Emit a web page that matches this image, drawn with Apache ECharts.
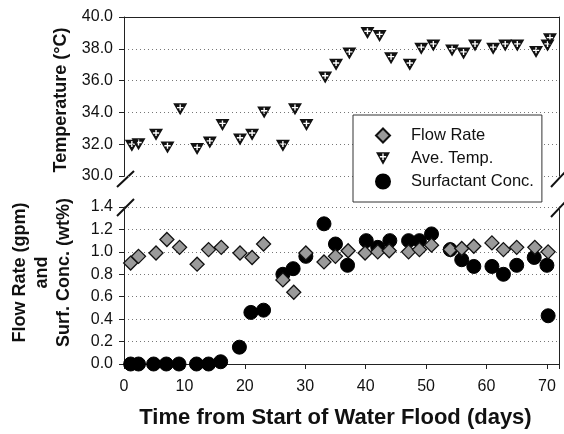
<!DOCTYPE html>
<html>
<head>
<meta charset="utf-8">
<script src="https://cdn.jsdelivr.net/npm/echarts@6/dist/echarts.min.js"></script>
<style>
  html, body { margin: 0; padding: 0; background: #fff; }
  #chart { width: 564px; height: 434px; }
</style>
</head>
<body>
<div id="chart"></div>
<script>
// values
var tempDays = [1.3, 2.4, 5.3, 7.2, 9.3, 12.1, 14.2, 16.3, 19.2, 21.2, 23.2, 26.3, 28.3, 30.2, 33.3, 35.1,
  37.3, 40.3, 42.3, 44.2, 47.3, 49.2, 51.2, 54.3, 56.2, 58.1, 61.1, 63.1, 65.1, 68.2, 70.1, 70.5];
var tempValues = [31.9, 32.0, 32.6, 31.8, 34.2, 31.7, 32.1, 33.2, 32.3, 32.6, 34.0, 31.9, 34.2, 33.2, 36.2, 37.0,
  37.7, 39.0, 38.8, 37.4, 37.0, 38.0, 38.2, 37.9, 37.7, 38.2, 38.0, 38.2, 38.2, 37.8, 38.2, 38.6];

var flowDays = [1.1, 2.4, 5.3, 7.1, 9.2, 12.1, 14.0, 16.1, 19.2, 21.2, 23.1, 26.3, 28.1, 30.1, 33.1, 35.0,
  37.1, 39.9, 42.0, 43.9, 47.1, 48.9, 50.9, 54.0, 55.9, 57.9, 60.9, 62.8, 65.0, 68.0, 70.2];
var flowValues = [0.90, 0.96, 0.99, 1.11, 1.04, 0.89, 1.02, 1.04, 0.99, 0.95, 1.07, 0.75, 0.64, 0.99, 0.91, 0.96,
  1.01, 0.99, 1.00, 1.01, 1.00, 1.02, 1.06, 1.02, 1.03, 1.05, 1.08, 1.02, 1.04, 1.04, 1.00];

var surfDays = [1.1, 2.4, 4.9, 7.0, 9.1, 12.0, 14.0, 16.0, 19.1, 21.0, 23.1, 26.3, 28.0, 30.1, 33.1, 35.0,
  37.0, 40.1, 42.0, 44.0, 47.1, 48.9, 50.9, 54.0, 55.9, 57.9, 60.9, 62.8, 65.0, 67.9, 70.0, 70.2];
var surfValues = [0, 0, 0, 0, 0, 0, 0, 0.02, 0.15, 0.46, 0.48, 0.80, 0.85, 0.96, 1.25, 1.07,
  0.88, 1.10, 1.04, 1.10, 1.10, 1.10, 1.16, 1.02, 0.93, 0.87, 0.87, 0.80, 0.88, 0.95, 0.88, 0.43];

var legendNames = ['Flow Rate', 'Ave. Temp.', 'Surfactant Conc.'];

function pairs(xs, ys) {
  var out = [];
  for (var i = 0; i < xs.length; i++) out.push([xs[i], ys[i]]);
  return out;
}

// down triangle with a white plus cut out of it
var triSymbol = 'path://M0,0L20,0L10,18Z M9,2L9,5.5L5.5,5.5L5.5,7.5L9,7.5L9,11L11,11L11,7.5L14.5,7.5L14.5,5.5L11,5.5L11,2Z';

var FONT = 'Arial, "Liberation Sans", Helvetica, sans-serif';
var axisLine = { show: true, lineStyle: { color: '#222', width: 1 } };
var dotted = { show: true, lineStyle: { color: '#777', width: 1, type: [1, 3] } };
var fmt1 = function (v) { return v.toFixed(1); };

var chart = echarts.init(document.getElementById('chart'));

var option = {
  animation: false,
  backgroundColor: '#fff',
  textStyle: { fontFamily: FONT },
  grid: [
    { left: 124, right: 5, top: 17, height: 159 },
    { left: 124, right: 5, top: 207, height: 157 }
  ],
  xAxis: [
    { gridIndex: 0, type: 'value', min: 0, max: 72, position: 'top',
      axisLine: axisLine, axisTick: { show: false }, axisLabel: { show: false }, splitLine: { show: false } },
    { gridIndex: 1, type: 'value', min: 0, max: 72, interval: 10,
      axisLine: axisLine,
      axisTick: { show: true, length: 5, lineStyle: { color: '#222' } },
      axisLabel: { color: '#111', fontSize: 16, margin: 15, fontFamily: FONT,
        formatter: function (v) { return v % 10 === 0 ? String(v) : ''; } },
      splitLine: { show: false },
      name: 'Time from Start of Water Flood (days)', nameLocation: 'middle', nameGap: 43,
      nameTextStyle: { fontSize: 22, fontWeight: 'bold', color: '#111', fontFamily: FONT, padding: [0, 12, 0, 0] } }
  ],
  yAxis: [
    { gridIndex: 0, type: 'value', min: 30, max: 40, interval: 2,
      axisLine: axisLine,
      axisTick: { show: true, length: 5, lineStyle: { color: '#222' } },
      axisLabel: { color: '#111', fontSize: 16, margin: 11, fontFamily: FONT, formatter: fmt1 },
      splitLine: dotted,
      name: 'Temperature (°C)', nameLocation: 'middle', nameRotate: 90, nameGap: 54,
      nameTextStyle: { fontSize: 18, fontWeight: 'bold', color: '#111', fontFamily: FONT, padding: [0, 7, 0, 0] } },
    { gridIndex: 1, type: 'value', min: 0, max: 1.4, interval: 0.2,
      axisLine: axisLine,
      axisTick: { show: true, length: 5, lineStyle: { color: '#222' } },
      axisLabel: { color: '#111', fontSize: 16, margin: 11, fontFamily: FONT, formatter: fmt1 },
      splitLine: dotted,
      name: 'Flow Rate (gpm)\nand\nSurf. Conc. (wt%)', nameLocation: 'middle', nameRotate: 90, nameGap: 49,
      nameTextStyle: { fontSize: 18, fontWeight: 'bold', color: '#111', fontFamily: FONT, lineHeight: 22,
        padding: [0, 0, 0, 26] } },
    { gridIndex: 0, type: 'value', min: 30, max: 40, position: 'right',
      axisLine: axisLine, axisTick: { show: false }, axisLabel: { show: false }, splitLine: { show: false } },
    { gridIndex: 1, type: 'value', min: 0, max: 1.4, position: 'right',
      axisLine: axisLine, axisTick: { show: false }, axisLabel: { show: false }, splitLine: { show: false } }
  ],
  legend: {
    data: legendNames,
    orient: 'vertical',
    left: 353, top: 115,
    padding: [12, 8, 12, 22],
    itemWidth: 14, itemHeight: 14, itemGap: 6,
    backgroundColor: '#fff',
    borderColor: '#333', borderWidth: 1, borderRadius: 0,
    textStyle: { fontSize: 16.5, color: '#111', fontFamily: FONT, padding: [0, 0, 0, 16] }
  },
  series: [
    { name: 'Ave. Temp.', type: 'scatter', xAxisIndex: 0, yAxisIndex: 0,
      symbol: triSymbol, symbolSize: [14, 12],
      itemStyle: { color: '#111', borderWidth: 0, opacity: 1 },
      data: pairs(tempDays, tempValues) },
    { name: 'Surfactant Conc.', type: 'scatter', xAxisIndex: 1, yAxisIndex: 1,
      symbol: 'circle', symbolSize: 14, z: 3,
      itemStyle: { color: '#000', borderColor: '#000', borderWidth: 1, opacity: 1 },
      data: pairs(surfDays, surfValues) },
    { name: 'Flow Rate', type: 'scatter', xAxisIndex: 1, yAxisIndex: 1,
      symbol: 'diamond', symbolSize: 14, z: 4,
      itemStyle: { color: '#9a9a9a', borderColor: '#111', borderWidth: 1.3, opacity: 1 },
      data: pairs(flowDays, flowValues) }
  ],
  // axis-break marks
  graphic: [
    { type: 'line', shape: { x1: 117, y1: 187, x2: 134, y2: 171 }, style: { stroke: '#111', lineWidth: 2 } },
    { type: 'line', shape: { x1: 117, y1: 216, x2: 134, y2: 199 }, style: { stroke: '#111', lineWidth: 2 } },
    { type: 'line', shape: { x1: 551, y1: 187, x2: 566, y2: 171 }, style: { stroke: '#111', lineWidth: 2 } },
    { type: 'line', shape: { x1: 551, y1: 217, x2: 566, y2: 201 }, style: { stroke: '#111', lineWidth: 2 } }
  ]
};

chart.setOption(option);
</script>
</body>
</html>
